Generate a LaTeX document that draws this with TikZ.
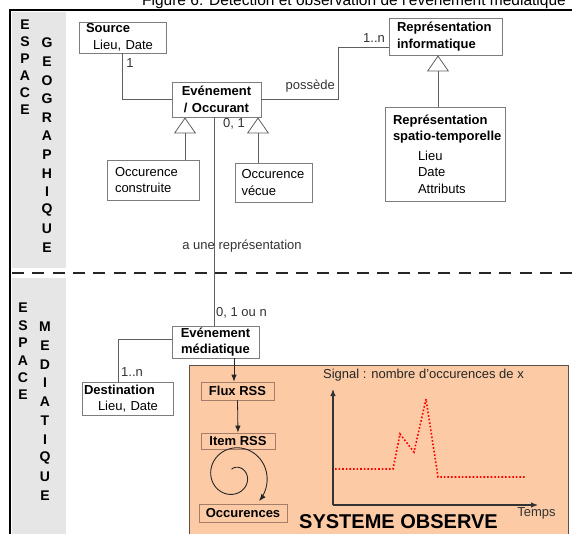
\documentclass[tikz,border=0pt]{standalone}
\usepackage{fontspec}
\setmainfont{Liberation Sans}
\usetikzlibrary{calc,arrows.meta}
\definecolor{panelgray}{RGB}{230,230,230}
\definecolor{boxgray}{RGB}{125,125,125}
\definecolor{linkgray}{RGB}{95,95,95}
\definecolor{peach}{RGB}{252,203,166}
\definecolor{peachedge}{RGB}{90,80,72}
\definecolor{rssedge}{RGB}{165,125,105}
\tikzset{>={Latex[length=7pt,width=5.5pt]}}
\tikzset{
    every node/.style={font=\fontsize{13}{16.5}\selectfont},
    umlbox/.style={draw=boxgray, line width=0.8pt, fill=white, inner ysep=0pt, align=left},
    umlbold/.style={font=\fontsize{13}{16.5}\selectfont\bfseries},
    rssbox/.style={draw=rssedge, line width=0.8pt, inner sep=0pt, font=\fontsize{13}{16}\selectfont\bfseries},
    link/.style={draw=linkgray, line width=0.8pt},
    inherit/.style={link, -{Triangle[open, length=16pt, width=22pt]}},
    flow/.style={black!85, line width=0.8pt, ->},
    lbl/.style={text=black!80, inner sep=0pt},
    vletter/.style={inner sep=0pt, font=\fontsize{14}{16}\selectfont\bfseries},
    signal/.style={red, dotted, line width=1.6pt},
    axisline/.style={black!80, line width=1.1pt, ->},
}

\begin{document}
\begin{tikzpicture}[x=1pt, y=-1pt]
    \useasboundingbox (0,0) rectangle (572,533);
    \clip (0,0) rectangle (572,533);
    % cadre, titre et bandeaux
    \node[anchor=base, font=\fontsize{15.5}{18}\selectfont] (title) at (354,5) {Figure 6: Détection et observation de l'événement médiatique};
    \draw[line width=1.2pt] (572,10) -- (10,10) -- (10,540);
    \fill[panelgray] (12,12) rectangle (66,268);
    \fill[panelgray] (12,278) rectangle (66,540);
    \draw[line width=1.5pt, black!85, dash pattern=on 12pt off 8.3pt] (12,273) -- (572,273);
    \foreach \lettre [count=\i from 0] in {E,S,P,A,C,E}
        \node[vletter] (eg-\i) at (25,25+17*\i) {\lettre};
    \foreach \lettre [count=\i from 0] in {G,E,O,G,R,A,P,H,I,Q,U,E}
        \node[vletter] (geo-\i) at (47,43+18.6*\i) {\lettre};
    \foreach \lettre [count=\i from 0] in {E,S,P,A,C,E}
        \node[vletter] (em-\i) at (23,308+17.4*\i) {\lettre};
    \foreach \lettre [count=\i from 0] in {M,E,D,I,A,T,I,Q,U,E}
        \node[vletter] (med-\i) at (45,327+18.7*\i) {\lettre};
    % systeme observe
    \draw[fill=peach, draw=peachedge, line width=1pt] (189,365) rectangle (568,540);

    % classes
    \node[umlbox, inner xsep=7pt, text width=73pt, minimum height=31pt] (source) at (122.5,37.5) {\textbf{Source}\\\hspace*{7pt}Lieu, Date};
    \node[umlbox, umlbold, inner xsep=7pt, text width=75pt, minimum height=35pt, align=center] (evt) at (216.5,99.5) {Evénement\\/ Occurant};
    \node[umlbox, umlbold, inner xsep=8pt, text width=97pt, minimum height=37pt] (repinfo) at (445.5,36.5) {Représentation\\informatique};
    \node[umlbox, inner xsep=8pt, text width=104pt, minimum height=94pt] (repst) at (445,154) {\textbf{Représentation}\\\textbf{\mbox{spatio-temporelle}}\\[3pt]\hspace*{25pt}Lieu\\\hspace*{25pt}Date\\\hspace*{25pt}Attributs};
    \node[umlbox, inner xsep=8pt, text width=76pt, minimum height=40pt] (occc) at (153,180) {Occurence\\construite};
    \node[umlbox, inner xsep=6.5pt, text width=64pt, minimum height=39pt] (occv) at (273.5,182.5) {Occurence\\vécue};
    \node[umlbox, umlbold, inner xsep=6pt, text width=75pt, minimum height=32pt, align=center] (evm) at (215.5,342) {Evénement\\médiatique};
    \node[umlbox, inner xsep=2pt, text width=87pt, minimum height=33pt] (dest) at (127.5,398.5) {\textbf{Destination}\\\hspace*{14pt}Lieu, Date};
    \node[rssbox, minimum width=73pt, minimum height=18pt] (flux) at (237.5,391) {Flux RSS};
    \node[rssbox, minimum width=74pt, minimum height=16pt] (item) at (238,441) {Item RSS};
    \node[rssbox, minimum width=88pt, minimum height=18pt] (occs) at (243,513) {Occurences};

    % associations
    \coordinate (bend) at (338,47);
    \draw[link] (source.south) |- (evt.west);
    \draw[link] (evt.east) -| (bend) -- (bend -| repinfo.west);
    \draw[link] ([xshift=-2.5pt]evt.south) -- ([xshift=-1.5pt]evm.north);
    \draw[link] ([yshift=3pt]evm.west) -| ([xshift=-9.5pt]dest.north);
    \coordinate (gA) at (185,0);
    \coordinate (gB) at (258,0);
    \coordinate (gC) at (438,0);
    \draw[inherit] (occc.north -| gA) -- (evt.south -| gA);
    \draw[inherit] (occv.north -| gB) -- (evt.south -| gB);
    \draw[inherit] (repst.north -| gC) -- (repinfo.south -| gC);
    \node[lbl] (card-src) at (130,63) {1};
    \node[lbl] (card-rep) at (374,38) {1..n};
    \node[lbl, anchor=east] (possede) at (335,86) {possède};
    \node[lbl] (card-evt) at (234,124) {0, 1};
    \node[lbl] (arep) at (242,246) {a une représentation};
    \node[lbl, anchor=west] (card-evm) at (216,313) {0, 1 ou n};
    \node[lbl, anchor=west] (card-dest) at (121,372) {1..n};

    % flux
    \coordinate (fluxin) at ([xshift=-3.5pt]flux.north);
    \draw[flow] (evm.south -| fluxin) -- (fluxin);
    \draw[flow] (flux.south) -- (item.north);
    \draw[flow, line width=0.9pt] plot[domain=-470:45, samples=160, smooth, variable=\t] ({234+(33+0.055*\t)*cos(\t)}, {476+(33+0.055*\t)*sin(\t)});

    % signal
    \coordinate (orig) at (333,505);
    \coordinate (tend) at (538,505);
    \coordinate (send) at (333,389);
    \draw[axisline] (orig) -- (tend);
    \draw[axisline] (orig) -- (send);
    \draw[signal] plot coordinates {(335,469) (393,469) (400,434) (414,452) (426,399) (438,477) (525,477)};
    \node[lbl, text=black!85] (siglbl) at (423.5,375) {Signal : nombre d'occurences de x};
    \node[lbl] (temps) at (536.5,513) {Temps};
    \node[inner sep=0pt, font=\fontsize{20}{24}\selectfont\bfseries] (sysobs) at (398.5,522) {SYSTEME OBSERVE};
\end{tikzpicture}
\end{document}
